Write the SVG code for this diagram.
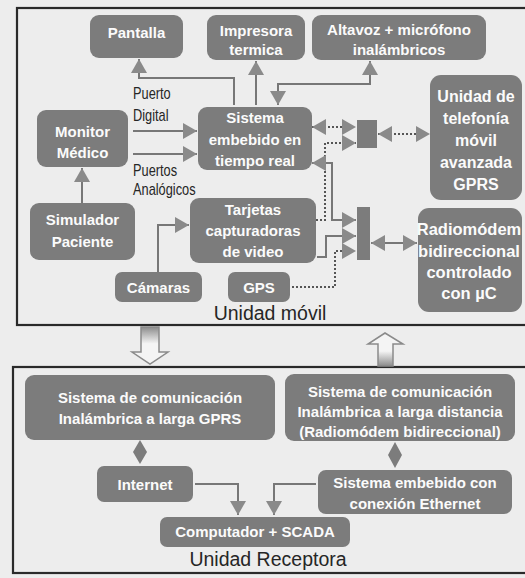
<svg xmlns="http://www.w3.org/2000/svg" width="525" height="578" viewBox="0 0 525 578">
<style>
.bg{fill:#ededed}
.frame{fill:none;stroke:#2a2a2a;stroke-width:2.2}
.box{fill:#7c7c7c}
.bt{font-family:"Liberation Sans",Arial,sans-serif;font-weight:bold;font-size:15px;fill:#fbfbfb;text-anchor:middle}
.lb{font-family:"Liberation Sans",Arial,sans-serif;font-size:16px;fill:#262626}
.tt{font-family:"Liberation Sans",Arial,sans-serif;font-size:19.5px;fill:#262626;text-anchor:middle}
.ln{fill:none;stroke:#777;stroke-width:2}
.dt{fill:none;stroke:#555;stroke-width:2;stroke-dasharray:2 2}
.hol{stroke:#8a8a8a;stroke-width:1.5}
.dia{fill:#7c7c7c}
</style>
<defs>
<marker id="ah" markerUnits="userSpaceOnUse" markerWidth="15" markerHeight="16" refX="14" refY="8" orient="auto-start-reverse" viewBox="0 0 15 16">
<path d="M0,0 L14,8 L0,16 Z" fill="#8a8a8a"/>
</marker>
<linearGradient id="gdown" x1="0" y1="0" x2="0" y2="1">
<stop offset="0" stop-color="#8c8c8c"/>
<stop offset="0.45" stop-color="#f4f4f4"/>
<stop offset="1" stop-color="#f4f4f4"/>
</linearGradient>
<linearGradient id="gup" x1="0" y1="1" x2="0" y2="0">
<stop offset="0" stop-color="#8c8c8c"/>
<stop offset="0.45" stop-color="#f4f4f4"/>
<stop offset="1" stop-color="#f4f4f4"/>
</linearGradient>
</defs>
<rect class="bg" x="0" y="0" width="525" height="578"/>

<!-- frames -->
<rect class="frame" x="17" y="8" width="520" height="317"/>
<rect class="frame" x="13" y="367" width="524" height="206"/>

<!-- port labels -->
<g id="labels">
<g transform="translate(133,0) scale(0.8,1)">
<text class="lb" x="0" y="99">Puerto</text>
<text class="lb" x="0" y="121">Digital</text>
<text class="lb" x="0" y="176">Puertos</text>
<text class="lb" x="0" y="195">Analógicos</text>
</g>
</g>

<!-- connectors -->
<g id="connectors">
<path class="ln" d="M234,105 V78 H139 V59" marker-end="url(#ah)"/>
<path class="ln" d="M256,105 V61" marker-end="url(#ah)"/>
<path class="ln" d="M278,105 V84 H370 V61" marker-start="url(#ah)" marker-end="url(#ah)"/>
<path class="ln" d="M133,131 H197" marker-end="url(#ah)"/>
<path class="ln" d="M133,154 H197" marker-end="url(#ah)"/>
<path class="ln" d="M82,203 V168" marker-end="url(#ah)"/>
<path class="ln" d="M158,272 V225 H189" marker-end="url(#ah)"/>
<path class="dt" d="M312,127 H356" marker-start="url(#ah)" marker-end="url(#ah)"/>
<path class="dt" d="M316,220 H325 V143 H356" marker-end="url(#ah)"/>
<path class="ln" d="M312,163 H332 V220 H356" marker-start="url(#ah)" marker-end="url(#ah)"/>
<path class="ln" d="M317,257 H326 V236 H356" marker-end="url(#ah)"/>
<path class="dt" d="M292,287 H335 V251 H356" marker-end="url(#ah)"/>
<path class="ln" d="M371,243 H417" marker-start="url(#ah)" marker-end="url(#ah)"/>
<path class="dt" d="M378,134 H430" marker-start="url(#ah)" marker-end="url(#ah)"/>
<path class="ln" d="M195,484 H238 V515" marker-end="url(#ah)"/>
<path class="ln" d="M316,484 H274 V515" marker-end="url(#ah)"/>
<polygon class="dia" points="140,440 147,452 140,464 133,452"/>
<polygon class="dia" points="395,442 402,455 395,468 388,455"/>
<polygon class="hol" fill="url(#gdown)" points="141,327 159,327 159,352 168,352 150,364 132,352 141,352"/>
<polygon class="hol" fill="url(#gup)" points="385,333 403,344 393,344 393,366 378,366 378,344 368,344"/>
</g>

<!-- top unit nodes -->
<g id="pantalla"><rect class="box" x="90" y="15" width="93" height="43" rx="9"/><text class="bt" x="136.5" y="38">Pantalla</text></g>
<g id="impresora"><rect class="box" x="207" y="15" width="98" height="45" rx="9"/><text class="bt" x="256" y="36">Impresora</text><text class="bt" x="256" y="55">termica</text></g>
<g id="altavoz"><rect class="box" x="312" y="15" width="174" height="45" rx="9"/><text class="bt" x="399" y="35">Altavoz + micrófono</text><text class="bt" x="399" y="55">inalámbricos</text></g>
<g id="telefonia"><rect class="box" x="430" y="75" width="92" height="125" rx="11"/>
<text class="bt" x="476" y="102" style="font-size:16px">Unidad de</text>
<text class="bt" x="476" y="124" style="font-size:16px">telefonía</text>
<text class="bt" x="476" y="146" style="font-size:16px">móvil</text>
<text class="bt" x="476" y="168" style="font-size:16px">avanzada</text>
<text class="bt" x="476" y="190" style="font-size:16px">GPRS</text></g>
<g id="monitor"><rect class="box" x="37" y="110" width="91" height="57" rx="9"/><text class="bt" x="82.5" y="137">Monitor</text><text class="bt" x="82.5" y="158">Médico</text></g>
<g id="sistema"><rect class="box" x="198" y="107" width="114" height="63" rx="9"/><text class="bt" x="255" y="123">Sistema</text><text class="bt" x="255" y="145">embebido en</text><text class="bt" x="255" y="166">tiempo real</text></g>
<g id="interfaz-gprs"><rect class="box" x="357" y="120" width="20" height="28"/></g>
<g id="simulador"><rect class="box" x="30" y="203" width="105" height="57" rx="9"/><text class="bt" x="82.5" y="225">Simulador</text><text class="bt" x="82.5" y="247">Paciente</text></g>
<g id="tarjetas"><rect class="box" x="190" y="198" width="126" height="65" rx="9"/><text class="bt" x="253" y="215">Tarjetas</text><text class="bt" x="253" y="236">capturadoras</text><text class="bt" x="253" y="257">de video</text></g>
<g id="camaras"><rect class="box" x="115" y="272" width="87" height="30" rx="7"/><text class="bt" x="158.5" y="293">Cámaras</text></g>
<g id="gps"><rect class="box" x="228" y="272" width="62" height="30" rx="7"/><text class="bt" x="259" y="293">GPS</text></g>
<g id="bus-radio"><rect class="box" x="357" y="207" width="13" height="53"/></g>
<g id="radiomodem"><rect class="box" x="418" y="208" width="104" height="104" rx="11"/>
<text class="bt" x="469" y="235" style="font-size:16.5px">Radiomódem</text>
<text class="bt" x="469" y="257" style="font-size:16.5px">bidireccional</text>
<text class="bt" x="469" y="278" style="font-size:16.5px">controlado</text>
<text class="bt" x="469" y="299" style="font-size:16.5px">con µC</text></g>
<g id="unidad-movil"><text class="tt" x="270" y="320">Unidad móvil</text></g>

<!-- receiver unit nodes -->
<g id="com-gprs"><rect class="box" x="25" y="375" width="250" height="65" rx="9"/><text class="bt" x="150" y="403">Sistema de comunicación</text><text class="bt" x="150" y="424">Inalámbrica a larga GPRS</text></g>
<g id="com-radio"><rect class="box" x="285" y="374" width="230" height="67" rx="9"/><text class="bt" x="400" y="397">Sistema de comunicación</text><text class="bt" x="400" y="417">Inalámbrica a larga distancia</text><text class="bt" x="400" y="437">(Radiomódem bidireccional)</text></g>
<g id="internet"><rect class="box" x="97" y="466" width="96" height="36" rx="7"/><text class="bt" x="145" y="490">Internet</text></g>
<g id="ethernet"><rect class="box" x="318" y="470" width="194" height="44" rx="8"/><text class="bt" x="415" y="488">Sistema embebido con</text><text class="bt" x="415" y="509">conexión Ethernet</text></g>
<g id="computador"><rect class="box" x="160" y="517" width="190" height="30" rx="7"/><text class="bt" x="255" y="537">Computador + SCADA</text></g>
<g id="unidad-receptora"><text class="tt" x="268" y="566">Unidad Receptora</text></g>
</svg>
